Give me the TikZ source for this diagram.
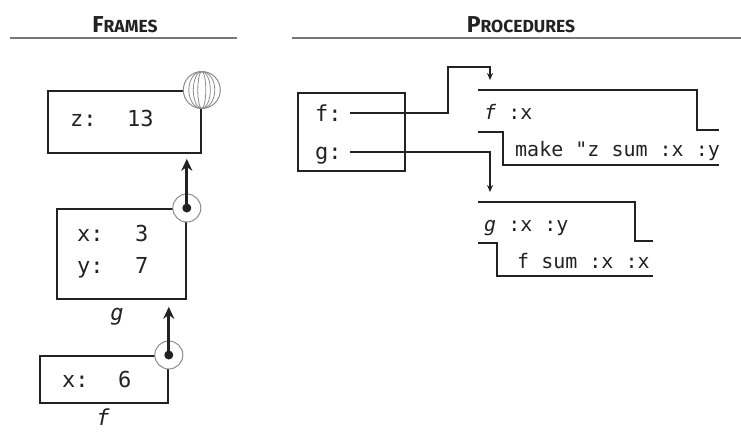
\documentclass[tikz,border=0pt]{standalone}
\usepackage{fontspec}
\setmainfont{Fira Sans}
\setmonofont{DejaVu Sans Mono}
\usetikzlibrary{arrows.meta,calc}
\definecolor{ink}{HTML}{222222}
\definecolor{ringgrey}{HTML}{8C8C8C}
\definecolor{rulegrey}{HTML}{777777}
\begin{document}
\begin{tikzpicture}[x=1pt,y=-1pt,
  heading/.style={font=\bfseries, text=ink, inner sep=0pt, anchor=base},
  headrule/.style={draw=rulegrey, line width=1.5pt},
  framebox/.style={draw=ink, line width=1.8pt, rectangle, inner sep=0pt, anchor=north west},
  framelabel/.style={font=\fontsize{22}{24}\selectfont\ttfamily, text=ink, inner sep=0pt, anchor=base west},
  framename/.style={font=\fontsize{22}{24}\selectfont\ttfamily\itshape, text=ink, inner sep=0pt, anchor=base},
  code/.style={font=\fontsize{20}{22}\selectfont\ttfamily, text=ink, inner sep=0pt, anchor=base west},
  procline/.style={draw=ink, line width=1.5pt},
  parentptr/.style={draw=ink, line width=2.8pt, -{Stealth[length=12pt,width=11pt]}},
  procptr/.style={draw=ink, line width=1.4pt, -{Stealth[length=7pt,width=6pt]}},
  ring/.style={draw=ringgrey, line width=1pt, fill=white},
  dot/.style={fill=ink, circle, inner sep=0pt, minimum size=9pt}
]
\useasboundingbox (0,0) rectangle (741,432);

% headings
\node[heading] (hframes) at (125,32) {\fontsize{23}{25}\selectfont F\fontsize{17.5}{20}\selectfont RAMES};
\node[heading] (hprocs) at (521,32) {\fontsize{23}{25}\selectfont P\fontsize{17.5}{20}\selectfont ROCEDURES};
\coordinate (rl1) at (10,38);  \coordinate (rr1) at (237,38);
\coordinate (rl2) at (292,38); \coordinate (rr2) at (741,38);
\path[headrule] (rl1) -- (rr1);
\path[headrule] (rl2) -- (rr2);

% ---------- frames ----------
\node[framebox, minimum width=153pt, minimum height=62pt] (global) at (47,90) {};
\node[framelabel] (gz) at (70,126) {z:};
\node[framelabel] (gzv) at (127,126) {13};

\node[framebox, minimum width=129pt, minimum height=90pt] (gframe) at (56,208) {};
\node[framelabel] (gx) at (77,241) {x:};
\node[framelabel] (gxv) at (135,241) {3};
\node[framelabel] (gy) at (77,273) {y:};
\node[framelabel] (gyv) at (135,273) {7};
\node[framename] (gname) at (117,320) {g};

\node[framebox, minimum width=128pt, minimum height=47pt] (fframe) at (39,355) {};
\node[framelabel] (fx) at (62,387) {x:};
\node[framelabel] (fxv) at (118,387) {6};
\node[framename] (fname) at (103,425) {f};

% globe marking the global frame
\coordinate (globec) at (global.north east);
\path[ring] (globec) circle[radius=18.5pt];
\foreach \r in {4,8.5,13}{
  \draw[ringgrey, line width=0.8pt] (globec) ellipse[x radius=\r pt, y radius=18.5pt];
}

% parent pointers
\coordinate (gtip) at ($(gframe.north east |- global.south)+(0,5)$);
\coordinate (ftip) at ($(fframe.north east |- gframe.south)+(0,7)$);
\path[ring] (gframe.north east) circle[radius=14pt];
\path[parentptr] (gframe.north east) -- (gtip);
\node[dot] (gdot) at (gframe.north east) {};
\path[ring] (fframe.north east) circle[radius=14pt];
\path[parentptr] (fframe.north east) -- (ftip);
\node[dot] (fdot) at (fframe.north east) {};

% ---------- procedures ----------
\node[framebox, minimum width=107pt, minimum height=78pt] (bind) at (297,92) {};
\node[framelabel] (bf) at (315,121) {f:};
\node[framelabel] (bg) at (315,159) {g:};
\coordinate (fstart) at (350,113);
\coordinate (gstart) at (350,152);

% f procedure
\coordinate (fproc) at (490,80);
\path[procptr] (fstart) -- (448,113) -- (448,67) -- (490,67) -- (fproc);
\path[procline] (478,90) -- (697,90) -- (697,130) -- (719,130);
\path[procline] (478,132) -- (503,132) -- (503,165) -- (719,165);
\node[code] (fhead) at (484,119) {\textit{f} :x};
\node[code] (fbody) at (515,156) {make "z sum :x :y};

% g procedure
\coordinate (gproc) at (490,192);
\path[procptr] (gstart) -- (490,152) -- (gproc);
\path[procline] (478,202) -- (635,202) -- (635,241) -- (653,241);
\path[procline] (478,243) -- (497,243) -- (497,276) -- (653,276);
\node[code] (ghead) at (484,231) {\textit{g} :x :y};
\node[code] (gbody) at (517,268) {f sum :x :x};
\end{tikzpicture}
\end{document}
